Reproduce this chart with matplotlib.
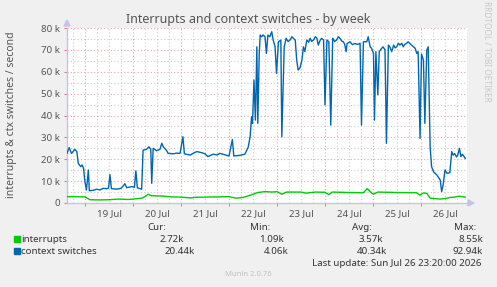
import matplotlib
matplotlib.use("Agg")
import matplotlib.pyplot as plt
import numpy as np
from matplotlib.transforms import blended_transform_factory

plt.rcParams['font.family'] = ['Noto Sans', 'DejaVu Sans']

# ---- data (x = days since 19 Jul 00:00, values in thousands/s) ----
day_labels = ["19 Jul", "20 Jul", "21 Jul", "22 Jul", "23 Jul", "24 Jul", "25 Jul", "26 Jul"]
y_ticks = [0, 10, 20, 30, 40, 50, 60, 70, 80]
y_labels = ["0", "10 k", "20 k", "30 k", "40 k", "50 k", "60 k", "70 k", "80 k"]

ctx_t = [-0.375, -0.33, -0.28, -0.21, -0.17, -0.14, -0.09, -0.06, -0.03, 0.00, 0.03, 0.07, 0.09,
         0.17, 0.24, 0.31, 0.38, 0.45, 0.49, 0.52, 0.55, 0.66, 0.76, 0.83, 0.87, 0.97, 1.03, 1.06,
         1.09, 1.18, 1.21, 1.28, 1.33, 1.37, 1.39, 1.42, 1.49, 1.56, 1.60, 1.63, 1.70, 1.73, 1.84,
         1.91, 1.98, 2.04, 2.07, 2.19, 2.26, 2.33, 2.43, 2.50, 2.56, 2.67, 2.75, 2.81, 2.92, 3.00,
         3.07, 3.10, 3.23, 3.33, 3.40, 3.44, 3.47, 3.49, 3.52, 3.55, 3.58, 3.60, 3.63, 3.65, 3.68,
         3.71, 3.75, 3.78, 3.81, 3.85, 3.89, 3.92, 3.96, 3.99, 4.03, 4.08, 4.10, 4.15, 4.19, 4.23,
         4.27, 4.31, 4.34, 4.38, 4.41, 4.44, 4.48, 4.52, 4.55, 4.58, 4.62, 4.66, 4.69, 4.72, 4.76,
         4.80, 4.83, 4.86, 4.90, 4.93, 4.97, 5.00, 5.04, 5.08, 5.12, 5.16, 5.20, 5.24, 5.28, 5.31,
         5.35, 5.38, 5.41, 5.44, 5.46, 5.52, 5.57, 5.62, 5.68, 5.73, 5.76, 5.80, 5.87, 5.90, 5.94,
         5.97, 6.01, 6.03, 6.06, 6.10, 6.13, 6.18, 6.21, 6.25, 6.28, 6.32, 6.35, 6.39, 6.43, 6.46,
         6.49, 6.53, 6.56, 6.60, 6.63, 6.66, 6.70, 6.73, 6.77, 6.80, 6.84, 6.88, 6.91, 6.94, 6.98,
         7.01, 7.05, 7.08, 7.12, 7.15, 7.19, 7.22, 7.26, 7.33, 7.40, 7.43, 7.46, 7.50, 7.54, 7.60,
         7.64, 7.67, 7.70, 7.74, 7.77, 7.80, 7.83, 7.86, 7.89, 7.92]
ctx_v = [22.7, 25.3, 22.7, 24.5, 23.5, 18.1, 16.6, 17.4, 15.8, 9.5, 6.0, 15.1, 5.6,
         5.8, 6.3, 6.0, 6.7, 6.5, 6.8, 13.0, 6.6, 6.3, 6.8, 8.8, 7.0, 7.5, 7.2, 14.7,
         7.0, 6.3, 24.2, 24.5, 25.7, 24.6, 9.0, 25.0, 23.9, 24.5, 27.3, 25.7, 24.0, 22.7, 22.5,
         22.8, 22.7, 30.3, 22.5, 21.9, 22.8, 23.5, 23.0, 22.5, 21.2, 22.3, 22.0, 22.7, 22.0, 21.5,
         29.0, 21.5, 21.8, 22.3, 25.5, 30.3, 39.4, 36.4, 56.2, 37.9, 71.4, 36.4, 68.4, 76.8, 76.0,
         76.8, 76.0, 68.4, 76.8, 76.0, 78.3, 74.5, 71.4, 59.3, 73.7, 74.5, 30.3, 71.4, 75.3, 73.8,
         74.5, 76.0, 75.3, 74.5, 65.4, 60.8, 61.8, 65.4, 71.4, 69.2, 74.5, 73.5, 75.3, 73.9, 74.5,
         76.0, 75.3, 72.2, 74.5, 75.3, 74.5, 44.8, 74.5, 73.7, 35.6, 75.3, 73.8, 74.5, 76.0, 75.3,
         74.0, 73.7, 72.6, 69.2, 72.9, 73.7, 72.4, 72.9, 72.5, 73.0, 35.6, 73.7, 73.7, 76.0, 71.4,
         70.7, 68.4, 37.9, 69.2, 49.4, 69.2, 70.7, 71.4, 70.0, 27.3, 72.2, 71.4, 69.2, 72.2, 70.9,
         71.4, 73.0, 72.2, 73.0, 71.4, 72.5, 73.0, 73.7, 72.9, 72.2, 71.5, 70.7, 68.4, 69.2, 29.6,
         68.0, 65.4, 36.4, 69.9, 71.4, 25.7, 16.6, 14.3, 12.8, 10.5, 5.2, 8.2, 15.1, 13.6, 13.8,
         23.5, 21.9, 22.6, 21.0, 22.2, 25.0, 21.2, 22.3, 21.5, 20.4]

irq_t = [-0.375, 0.0, 0.05, 0.1, 0.3, 0.5, 0.7, 0.9, 1.1, 1.2, 1.25, 1.32, 1.38, 1.6, 1.8, 2.0,
         2.2, 2.3, 2.5, 2.8, 3.0, 3.15, 3.3, 3.45, 3.6, 3.75, 3.9, 4.0, 4.1, 4.2, 4.5, 4.6, 4.8,
         5.0, 5.08, 5.15, 5.5, 5.8, 5.88, 5.95, 6.01, 6.1, 6.5, 6.9, 6.98, 7.05, 7.12, 7.19, 7.4,
         7.5, 7.6, 7.7, 7.8, 7.92]
irq_v = [2.9, 2.8, 2.2, 1.5, 1.4, 1.5, 1.8, 1.6, 2.0, 2.3, 3.0, 4.0, 3.3, 3.2, 2.8, 2.7,
         2.3, 2.6, 2.7, 2.8, 2.9, 2.2, 2.6, 3.6, 4.8, 5.2, 5.0, 5.2, 4.0, 5.0, 5.0, 4.5, 5.0,
         4.9, 3.8, 5.0, 4.8, 4.7, 6.6, 5.0, 4.0, 5.0, 4.8, 4.7, 3.6, 4.6, 4.4, 2.2, 1.8,
         2.0, 2.5, 2.7, 3.1, 2.72]

legend_names = ["interrupts", "context switches"]
legend_colors = ["#00CC00", "#0066B3"]
cur_vals = ["2.72k", "20.44k"]
min_vals = ["1.09k", "4.06k"]
avg_vals = ["3.57k", "40.34k"]
max_vals = ["8.55k", "92.94k"]

W, H = 497, 287
fig = plt.figure(figsize=(W / 100, H / 100), dpi=100)
fig.patch.set_facecolor("#F0F0F0")
L, R, T, B = 67, 467, 28, 203
ax = fig.add_axes([L / W, 1 - B / H, (R - L) / W, (B - T) / H])
ax.set_facecolor("white")
xmin, xmax = -0.375, 7.958
ax.set_xlim(xmin, xmax)
ax.set_ylim(0, 80)

# grid
minor_c = "#CCCCCC"
major_c = "#E6A8A8"
for xv in np.arange(-0.25, xmax, 0.25):
    is_major = abs(xv - round(xv)) < 1e-6
    ax.axvline(xv, color=major_c if is_major else minor_c, lw=0.8,
               ls=(0, (1, 2)), zorder=1)
for yv in np.arange(5, 81, 5):
    is_major = (yv % 10 == 0)
    ax.axhline(yv, color=major_c if is_major else minor_c, lw=0.8,
               ls=(0, (1, 2)), zorder=1)

ax.plot(irq_t, irq_v, color=legend_colors[0], lw=1.0, zorder=3)
ax.plot(ctx_t, ctx_v, color=legend_colors[1], lw=1.0, zorder=3)

for s in ["top", "right"]:
    ax.spines[s].set_visible(False)
for s in ["left", "bottom"]:
    ax.spines[s].set_color("#C4C4E8")
    ax.spines[s].set_linewidth(1.0)

ax.set_yticks(y_ticks)
ax.set_yticklabels(y_labels)
ax.set_xticks(range(0, 8))
ax.set_xticklabels([])
ax.tick_params(axis="both", which="major", length=2, width=0.8, color="#E08080",
               labelsize=7, labelcolor="#555555", pad=3, direction="out")
trans = blended_transform_factory(ax.transData, ax.transAxes)
for i, lab in enumerate(day_labels):
    ax.text(i + 0.5, -0.035, lab, transform=trans, ha="center", va="top",
            fontsize=7, color="#555555")

# arrows
fig.patches.append(matplotlib.patches.Polygon(
    [[(L - 3) / W, 1 - (T - 2) / H], [(L + 3) / W, 1 - (T - 2) / H], [L / W, 1 - (T - 8) / H]],
    closed=True, transform=fig.transFigure, color="#C4C4E8", zorder=5))
fig.patches.append(matplotlib.patches.Polygon(
    [[(R + 1) / W, 1 - (B - 3) / H], [(R + 1) / W, 1 - (B + 3) / H], [(R + 7) / W, 1 - B / H]],
    closed=True, transform=fig.transFigure, color="#C4C4E8", zorder=5))

def ft(x, y, s, **kw):
    fig.text(x / W, 1 - y / H, s, **kw)

ft(248, 20, "Interrupts and context switches - by week", ha="center", va="center",
   fontsize=9, color="#555555")
ft(12, 115, "interrupts & ctx switches / second", ha="center", va="center",
   rotation=90, fontsize=7.5, color="#555555")
ft(487, 51, "RRDTOOL / TOBI OETIKER", ha="center", va="center", rotation=270,
   fontsize=6, color="#C8C8C8")

tc = "#333333"
ft(157, 227, "Cur:", ha="center", va="center", fontsize=7, color=tc)
ft(260, 227, "Min:", ha="center", va="center", fontsize=7, color=tc)
ft(362, 227, "Avg:", ha="center", va="center", fontsize=7, color=tc)
ft(476, 227, "Max:", ha="right", va="center", fontsize=7, color=tc)

rows_y = [239, 251]
cur_x = [184, 195]
min_x = [284, 289]
avg_x = [383, 387]
max_x = [483, 483]
for i in range(2):
    y = rows_y[i]
    fig.patches.append(matplotlib.patches.Rectangle(
        (14 / W, 1 - (y + 3) / H), 6 / W, 6 / H, transform=fig.transFigure,
        color=legend_colors[i]))
    ft(21, y, legend_names[i], ha="left", va="center", fontsize=7, color=tc)
    ft(cur_x[i], y, cur_vals[i], ha="right", va="center", fontsize=7, color=tc)
    ft(min_x[i], y, min_vals[i], ha="right", va="center", fontsize=7, color=tc)
    ft(avg_x[i], y, avg_vals[i], ha="right", va="center", fontsize=7, color=tc)
    ft(max_x[i], y, max_vals[i], ha="right", va="center", fontsize=7, color=tc)

ft(482, 263, "Last update: Sun Jul 26 23:20:00 2026", ha="right", va="center",
   fontsize=7, color=tc)
ft(248, 275, "Munin 2.0.76", ha="center", va="center", fontsize=5.5, color="#C0C0C0")

fig.savefig("out.png", dpi=100, facecolor=fig.get_facecolor())
